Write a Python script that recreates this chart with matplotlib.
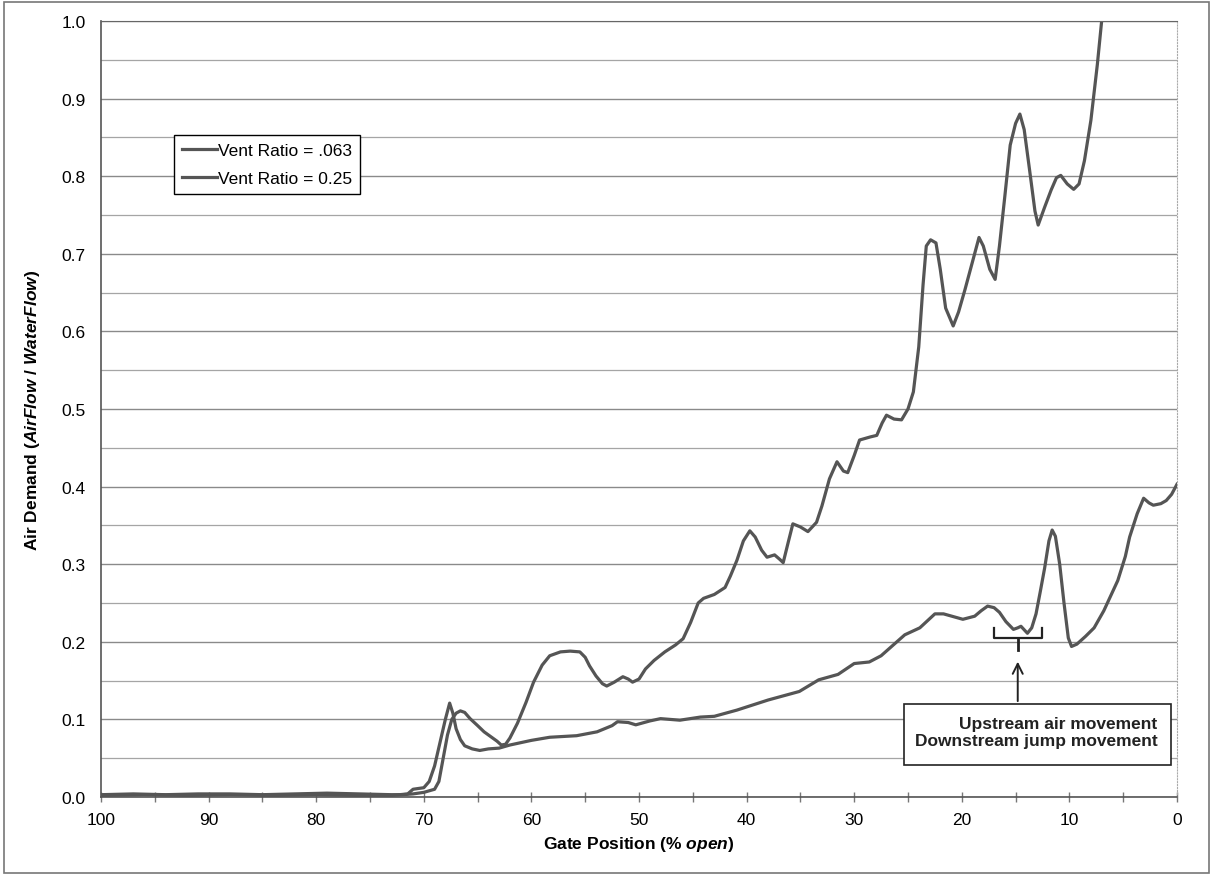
import matplotlib
matplotlib.use("Agg")
import matplotlib.pyplot as plt
from matplotlib.patches import Rectangle
from matplotlib.ticker import MultipleLocator, FormatStrFormatter

plt.rcParams['font.family'] = ['Liberation Sans', 'DejaVu Sans']
plt.rcParams['mathtext.fontset'] = 'custom'
plt.rcParams['mathtext.it'] = 'Liberation Sans:italic:bold'
plt.rcParams['mathtext.rm'] = 'Liberation Sans:bold'

# gate position (% open) and air demand
gate_063 = [100, 97, 94, 91, 88, 85, 82, 79, 76, 73, 72, 71, 70, 69, 68.6, 68.2, 67.8, 67.4,
            67.0, 66.6, 66.2, 65.7, 65.0, 64.4, 63.8, 63.2, 62.8, 62.4, 62.0, 61.3, 60.5,
            59.8, 59.0, 58.3, 57.3, 56.4, 55.5, 55.0, 54.6, 54.0, 53.4, 53.0, 52.3, 51.5,
            51.0, 50.6, 50.0, 49.4, 48.6, 47.6, 46.6, 45.9, 45.2, 44.5, 44.0, 43.0, 42.0,
            41.5, 40.9, 40.3, 39.7, 39.2, 38.6, 38.1, 37.4, 36.9, 36.6, 36.1, 35.7, 35.0,
            34.3, 33.5, 33.0, 32.3, 31.6, 31.0, 30.6, 30.0, 29.5, 28.5, 27.9, 27.4, 27.0,
            26.3, 25.6, 25.0, 24.5, 24.0, 23.6, 23.3, 22.9, 22.4, 22.0, 21.5, 20.8, 20.3,
            19.7, 19.0, 18.4, 18.0, 17.4, 16.9, 16.5, 16.0, 15.5, 15.0, 14.6, 14.2, 13.7,
            13.2, 12.9, 12.3, 11.7, 11.2, 10.8, 10.2, 9.6, 9.1, 8.6, 8.0, 7.4, 7.0]
air_063 = [0.003, 0.004, 0.003, 0.004, 0.004, 0.003, 0.004, 0.005, 0.004, 0.003, 0.003, 0.004,
           0.006, 0.01, 0.02, 0.05, 0.08, 0.1,
           0.108, 0.111, 0.109, 0.101, 0.092, 0.084, 0.078, 0.072, 0.067, 0.068, 0.076, 0.095,
           0.122,
           0.148, 0.17, 0.182, 0.187, 0.188, 0.187, 0.18, 0.169, 0.156, 0.146, 0.143, 0.148,
           0.155,
           0.152, 0.148, 0.152, 0.165, 0.176, 0.187, 0.196, 0.204, 0.225, 0.25, 0.256, 0.261,
           0.27,
           0.285, 0.305, 0.33, 0.343, 0.335, 0.318, 0.309, 0.312, 0.306, 0.302, 0.33, 0.352,
           0.348,
           0.342, 0.354, 0.375, 0.41, 0.432, 0.42, 0.418, 0.44, 0.46, 0.464, 0.466, 0.482,
           0.492,
           0.487, 0.486, 0.5, 0.522, 0.58, 0.66, 0.71, 0.718, 0.714, 0.68, 0.63, 0.607, 0.625,
           0.654, 0.69, 0.721, 0.71, 0.68, 0.667, 0.71, 0.774, 0.84, 0.868, 0.880, 0.86, 0.808,
           0.755, 0.737, 0.76, 0.782, 0.798, 0.801, 0.79, 0.783, 0.79, 0.82, 0.872, 0.944, 1.0]

gate_025 = [100, 96, 92, 88, 84, 80, 76, 73, 71.5, 71, 70, 69.5, 69, 68.5, 68.0, 67.6, 67.3,
            67.0, 66.6, 66.2, 65.5, 64.8, 64, 63, 62, 61, 60, 58.3, 55.8, 53.9, 52.5, 52.0,
            51, 50.3, 49, 48, 46.2, 44.3, 43.0, 40.9, 38.0, 35.1, 33.3, 31.5, 30.0, 28.6,
            27.5, 25.3, 23.9, 22.5, 21.7, 19.9, 18.8, 18.2, 17.6, 17.0, 16.5, 15.9, 15.2,
            14.8, 14.5, 14.1, 13.9, 13.5, 13.1, 12.7, 12.3, 11.9, 11.6, 11.3, 10.9, 10.5,
            10.1, 9.8, 9.3, 8.5, 7.7, 6.8, 5.5, 4.8, 4.4, 3.7, 3.1, 2.6, 2.2, 1.5, 1.0, 0.5,
            0.0]
air_025 = [0.002, 0.003, 0.002, 0.003, 0.002, 0.003, 0.002, 0.002, 0.004, 0.01, 0.012, 0.02,
           0.04, 0.07, 0.1, 0.121, 0.108,
           0.088, 0.074, 0.066, 0.062, 0.06, 0.062, 0.063, 0.067, 0.07, 0.073, 0.077, 0.079,
           0.084, 0.092, 0.097,
           0.096, 0.093, 0.098, 0.101, 0.099, 0.103, 0.104, 0.112, 0.125, 0.136, 0.151,
           0.158, 0.172, 0.174,
           0.182, 0.209, 0.218, 0.236, 0.236, 0.229, 0.233, 0.24, 0.246, 0.244, 0.238, 0.226,
           0.216,
           0.218, 0.220, 0.214, 0.211, 0.218, 0.236, 0.265, 0.295, 0.33, 0.344, 0.336, 0.3,
           0.25,
           0.205, 0.194, 0.197, 0.207, 0.218, 0.24, 0.279, 0.31, 0.335, 0.365, 0.385, 0.379,
           0.376, 0.378, 0.382, 0.39,
           0.403]

fs = 12.5

fig = plt.figure(figsize=(12.13, 8.78), dpi=100)
ax = fig.add_axes([0.0833, 0.0911, 0.887, 0.8839])

line_col = '#555555'
ax.plot(gate_063, air_063, color=line_col, lw=2.3, label='Vent Ratio = .063',
        solid_joinstyle='round')
ax.plot(gate_025, air_025, color=line_col, lw=2.3, label='Vent Ratio = 0.25',
        solid_joinstyle='round')

ax.set_xlim(100, 0)
ax.set_ylim(0, 1.0)
ax.xaxis.set_major_locator(MultipleLocator(10))
ax.xaxis.set_minor_locator(MultipleLocator(5))
ax.yaxis.set_major_locator(MultipleLocator(0.1))
ax.yaxis.set_minor_locator(MultipleLocator(0.05))
ax.yaxis.set_major_formatter(FormatStrFormatter('%.1f'))
ax.grid(True, which='major', axis='y', color='#8a8a8a', lw=1.0)
ax.grid(True, which='minor', axis='y', color='#a5a5a5', lw=0.9)
ax.set_axisbelow(True)

ax.tick_params(axis='x', which='both', direction='inout', length=7, width=1, color='#777777',
               labelsize=fs, pad=7)
ax.tick_params(axis='y', which='both', length=0, labelsize=fs, pad=11)
for s in ['left', 'bottom']:
    ax.spines[s].set_color('#555555')
    ax.spines[s].set_linewidth(1.2)
ax.spines['top'].set_color('#666666')
ax.spines['right'].set_color('#aaaaaa')
ax.spines['right'].set_linestyle(':')

ax.set_xlabel('Gate Position (% $\\mathit{open}$)', fontsize=fs, fontweight='bold', labelpad=5)
ax.set_ylabel('Air Demand ($\\mathit{AirFlow}$ / $\\mathit{WaterFlow}$)', fontsize=fs,
              fontweight='bold', labelpad=14)

leg = ax.legend(loc='upper left', bbox_to_anchor=(0.068, 0.853), fontsize=fs, frameon=True,
                fancybox=False, edgecolor='black', handlelength=2.0, handletextpad=0.1,
                borderpad=0.45, labelspacing=0.75, borderaxespad=0)
leg.get_frame().set_linewidth(1.0)
leg.get_frame().set_alpha(1)

# bracket over the dip
bx = [17.0, 17.0, 12.5, 12.5]
by = [0.218, 0.205, 0.205, 0.218]
ax.plot(bx, by, color='#222222', lw=1.6)
ax.plot([14.8, 14.8], [0.205, 0.19], color='#222222', lw=2.0)

ax.annotate('', xy=(14.8, 0.178), xytext=(14.8, 0.12),
            arrowprops=dict(arrowstyle='->', color='#222222', lw=1.4, mutation_scale=18))
ax.text(1.8, 0.0835, 'Upstream air movement\nDownstream jump movement', ha='right', va='center',
        fontsize=fs, fontweight='bold', linespacing=1.15, color='#222222', zorder=6)
ax.add_patch(Rectangle((25.4, 0.041), -24.8, 0.079, facecolor='white', edgecolor='#222222',
                       lw=1.2, zorder=5))

fig.add_artist(Rectangle((0.003, 0.004), 0.994, 0.993, transform=fig.transFigure, fill=False,
                         edgecolor='#777777', lw=1.2))

fig.savefig('out.png', dpi=100)
